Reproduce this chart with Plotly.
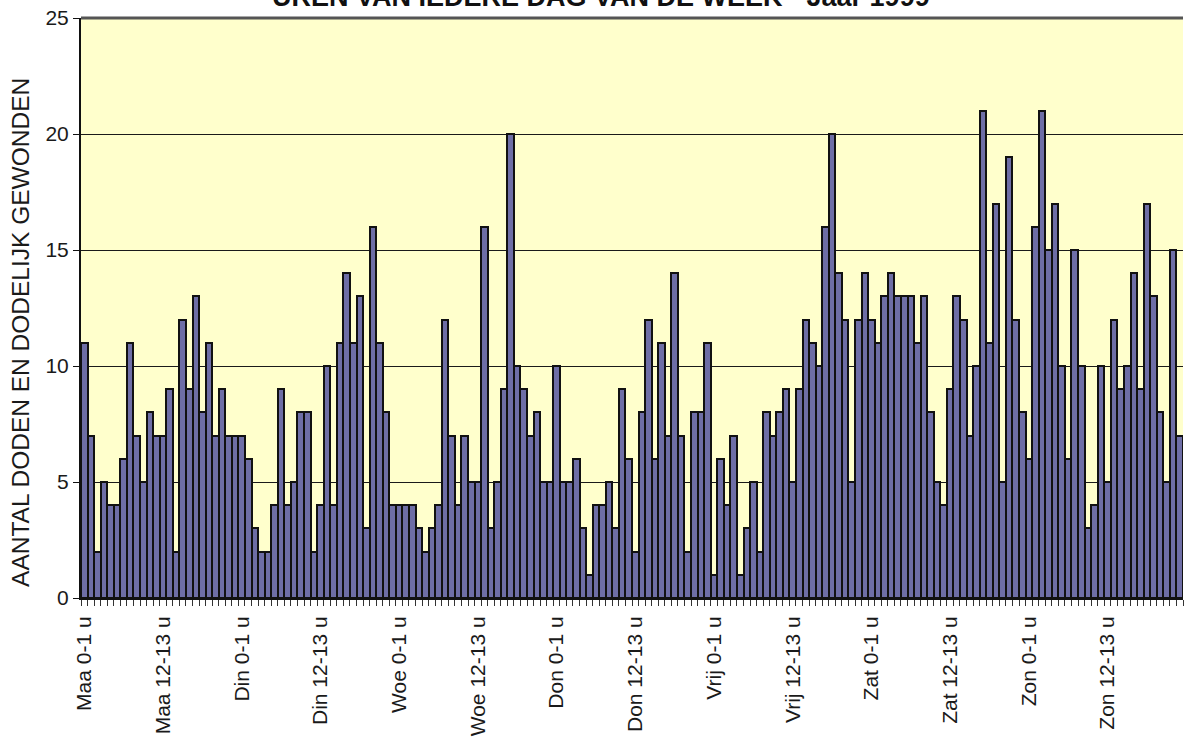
import plotly.graph_objects as go

# Data: number of deaths and fatally injured per hour of each weekday, 1999
days = ["Maa", "Din", "Woe", "Don", "Vrij", "Zat", "Zon"]
hours = [f"{h}-{h+1} u" for h in range(24)]

maa = [11, 7, 2, 5, 4, 4, 6, 11, 7, 5, 8, 7, 7, 9, 2, 12, 9, 13, 8, 11, 7, 9, 7, 7]
din = [7, 6, 3, 2, 2, 4, 9, 4, 5, 8, 8, 2, 4, 10, 4, 11, 14, 11, 13, 3, 16, 11, 8, 4]
woe = [4, 4, 4, 3, 2, 3, 4, 12, 7, 4, 7, 5, 5, 16, 3, 5, 9, 20, 10, 9, 7, 8, 5, 5]
don = [10, 5, 5, 6, 3, 1, 4, 4, 5, 3, 9, 6, 2, 8, 12, 6, 11, 7, 14, 7, 2, 8, 8, 11]
vrij = [1, 6, 4, 7, 1, 3, 5, 2, 8, 7, 8, 9, 5, 9, 12, 11, 10, 16, 20, 14, 12, 5, 12, 14]
zat = [12, 11, 13, 14, 13, 13, 13, 11, 13, 8, 5, 4, 9, 13, 12, 7, 10, 21, 11, 17, 5, 19, 12, 8]
zon = [6, 16, 21, 15, 17, 10, 6, 15, 10, 3, 4, 10, 5, 12, 9, 10, 14, 9, 17, 13, 8, 5, 15, 7]

series = [maa, din, woe, don, vrij, zat, zon]

labels = [f"{d} {h}" for d in days for h in hours]
values = [v for day in series for v in day]
xpos = list(range(len(values)))

tick_every = 12
tickvals = xpos[::tick_every]
ticktext = labels[::tick_every]

fig = go.Figure()
fig.add_trace(go.Bar(
    x=xpos, y=values,
    marker=dict(color="#6e6ea6", line=dict(color="#111111", width=2)),
    hovertext=labels,
))

fig.update_layout(
    width=1184, height=740,
    margin=dict(l=81, r=1, t=18, b=142),
    paper_bgcolor="white",
    plot_bgcolor="#ffffcc",
    bargap=0,
    showlegend=False,
    font=dict(family="Liberation Sans, Arial, sans-serif", color="#1a1a1a"),
)

fig.update_xaxes(
    automargin=False,
    range=[-0.5, len(values) - 0.5],
    tickmode="array", tickvals=tickvals, ticktext=ticktext,
    tickangle=-90, tickfont=dict(size=21),
    ticks="outside", ticklen=8, tickcolor="rgba(0,0,0,0)",
    minor=dict(tickmode="linear", tick0=-0.5, dtick=1, ticks="outside",
               ticklen=6, tickcolor="#333333", showgrid=False),
    showline=True, linecolor="#111111", linewidth=2,
    showgrid=False, zeroline=False,
)

fig.update_yaxes(
    automargin=False,
    range=[0, 25], dtick=5, tick0=0,
    tickfont=dict(size=21),
    ticklabeloverflow="allow",
    ticks="outside", ticklen=6, tickcolor="#111111",
    showgrid=True, gridcolor="#1a1a1a", gridwidth=1,
    showline=True, linecolor="#111111", linewidth=2,
    zeroline=False,
)

# top border line of the plot area
fig.add_shape(type="line", xref="paper", yref="paper", x0=0, x1=1, y0=1, y1=1,
              line=dict(color="#555555", width=3))

fig.add_annotation(
    text="AANTAL DODEN EN DODELIJK GEWONDEN",
    xref="paper", yref="paper", x=0, y=0.457,
    xanchor="center", yanchor="middle", xshift=-60,
    textangle=-90, showarrow=False,
    font=dict(size=24.5, color="#1a1a1a"),
)

fig.add_annotation(
    text="<b>UREN VAN IEDERE DAG VAN DE WEEK - Jaar 1999</b>",
    xref="paper", yref="paper", x=0.472, y=1,
    xanchor="center", yanchor="bottom", yshift=4,
    showarrow=False,
    font=dict(size=27, color="#111111"),
)

fig.write_html(
    "out.html",
    config={"displayModeBar": False},
    post_script="document.body.style.margin='0';document.body.style.overflow='hidden';",
)
